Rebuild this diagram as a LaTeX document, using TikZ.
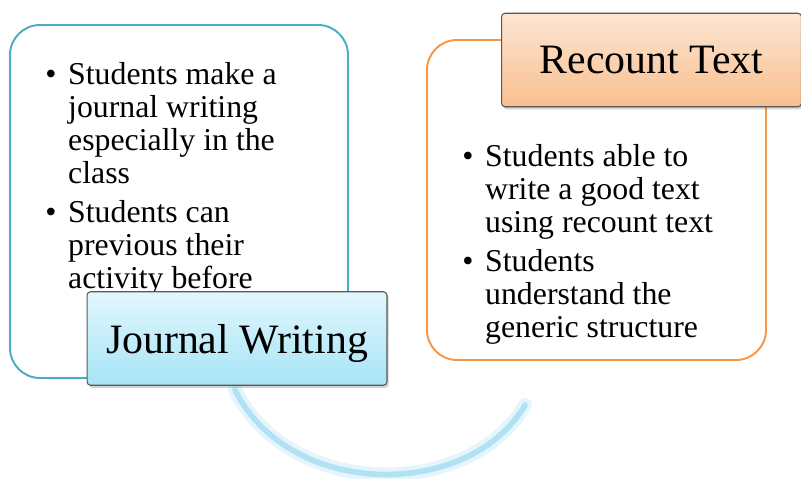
\documentclass[tikz,border=0pt]{standalone}
\usepackage{fontspec}
\setmainfont{Liberation Serif}
\usetikzlibrary{shadows}
\definecolor{jwline}{HTML}{4BACC6}
\definecolor{rtline}{HTML}{F79646}
\definecolor{jwtop}{HTML}{E2F7FD}
\definecolor{jwbot}{HTML}{A6E4F6}
\definecolor{rttop}{HTML}{FDE6D4}
\definecolor{rtbot}{HTML}{F8BF8E}
\definecolor{arcblue}{HTML}{A8DFF2}
\newcommand{\bul}{\textbullet}
\begin{document}
\begin{tikzpicture}[x=0.02cm, y=-0.02cm,
  panel/.style={line width=1.1pt, fill=white, rounded corners=0.6cm},
  title/.style={draw=black!65, line width=0.6pt, rounded corners=2pt,
    minimum width=6cm, minimum height=1.87cm, inner sep=0pt, text depth=0pt,
    font=\fontsize{23.8}{26}\selectfont,
    drop shadow={shadow xshift=1pt, shadow yshift=-1.5pt, opacity=0.35}},
  txt/.style={inner sep=0pt, anchor=base west, font=\fontsize{18.1}{18.7}\selectfont}]

\useasboundingbox (0,0) rectangle (801,479);

\draw[line width=8pt, arcblue!30, line cap=round] (235,390) .. controls (290,500) and (470,500) .. (525,405);
\draw[line width=3.2pt, arcblue!90, line cap=round] (235,390) .. controls (290,500) and (470,500) .. (525,405);

\draw[panel, draw=jwline] (10,25) rectangle (348,378);
\draw[panel, draw=rtline] (427,40) rectangle (766,360);

\node[txt] (jwtext) at (45,85) {\renewcommand{\arraystretch}{1}%
  \begin{tabular}[t]{@{}p{13pt}@{}l@{}}
  \bul & Students make a\\
       & journal writing\\
       & especially in the\\
       & class\\[3.4pt]
  \bul & Students can\\
       & previous their\\
       & activity before
  \end{tabular}};

\node[txt] (rttext) at (462,167) {\renewcommand{\arraystretch}{1}%
  \begin{tabular}[t]{@{}p{13pt}@{}l@{}}
  \bul & Students able to\\
       & write a good text\\
       & using recount text\\[3.4pt]
  \bul & Students\\
       & understand the\\
       & generic structure
  \end{tabular}};

\node[title, top color=jwtop, bottom color=jwbot] (jw) at (237,338.5) {Journal Writing};
\node[title, top color=rttop, bottom color=rtbot] (rt) at (651.5,60) {Recount Text};

\end{tikzpicture}
\end{document}
